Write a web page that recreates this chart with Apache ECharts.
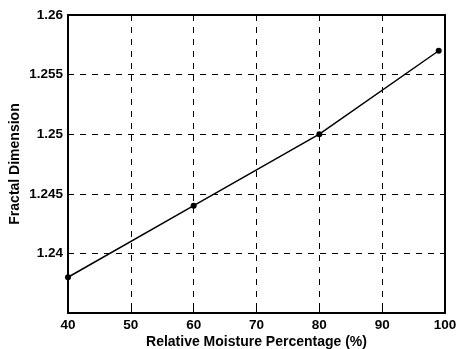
<!DOCTYPE html>
<html>
<head>
<meta charset="utf-8">
<script src="https://cdn.jsdelivr.net/npm/echarts@6/dist/echarts.min.js"></script>
<style>
  html, body { margin: 0; padding: 0; background: #fff; }
  #chart { width: 457px; height: 349px; }
</style>
</head>
<body>
<div id="chart"></div>
<script>
  // values
  const moisture = [40, 60, 80, 99];
  const fractalDim = [1.238, 1.244, 1.25, 1.257];

  const font = 'Liberation Sans, Arial, sans-serif';
  const lineStyle = { color: '#000', width: 2 };
  const gridLine = { show: true, lineStyle: { color: '#000', width: 1, type: [6, 6] } };
  const tickFont = { fontFamily: font, fontWeight: 'bold', fontSize: 13.5, color: '#000' };
  const nameFont = { fontFamily: font, fontWeight: 'bold', fontSize: 14, color: '#000' };

  let myChart = echarts.init(document.getElementById('chart'));
  let option = {
    backgroundColor: '#fff',
    animation: false,
    grid: { left: 68, right: 12, top: 15, bottom: 36, containLabel: false, outerBoundsMode: 'none' },
    xAxis: [{
      type: 'value',
      min: 40, max: 100, interval: 10,
      name: 'Relative Moisture Percentage (%)',
      nameLocation: 'middle',
      nameGap: 22,
      nameMoveOverlap: false,
      nameTextStyle: nameFont,
      axisLine: { show: true, lineStyle: lineStyle },
      axisTick: { show: true, inside: true, length: 4, lineStyle: { color: '#000' } },
      axisLabel: Object.assign({ margin: 5 }, tickFont),
      splitLine: gridLine
    }, {
      type: 'value', position: 'top',
      min: 40, max: 100, interval: 10,
      axisLine: { show: true, lineStyle: lineStyle },
      axisTick: { show: true, inside: true, length: 4, lineStyle: { color: '#000' } },
      axisLabel: { show: false },
      splitLine: { show: false }
    }],
    yAxis: [{
      type: 'value',
      min: 1.235, max: 1.26, interval: 0.005,
      name: 'Fractal Dimension',
      nameLocation: 'middle',
      nameGap: 46,
      nameMoveOverlap: false,
      nameTextStyle: nameFont,
      axisLine: { show: true, lineStyle: lineStyle },
      axisTick: { show: true, inside: true, length: 4, lineStyle: { color: '#000' } },
      axisLabel: Object.assign({
        showMinLabel: false,
        margin: 5,
        formatter: v => String(parseFloat(v.toFixed(3)))
      }, tickFont),
      splitLine: gridLine
    }, {
      type: 'value', position: 'right',
      min: 1.235, max: 1.26, interval: 0.005,
      axisLine: { show: true, lineStyle: lineStyle },
      axisTick: { show: true, inside: true, length: 4, lineStyle: { color: '#000' } },
      axisLabel: { show: false },
      splitLine: { show: false }
    }],
    series: [{
      type: 'line',
      data: moisture.map((x, i) => [x, fractalDim[i]]),
      symbol: 'circle',
      symbolSize: 6,
      itemStyle: { color: '#000' },
      lineStyle: { color: '#000', width: 1.5 }
    }]
  };
  myChart.setOption(option);
</script>
</body>
</html>
